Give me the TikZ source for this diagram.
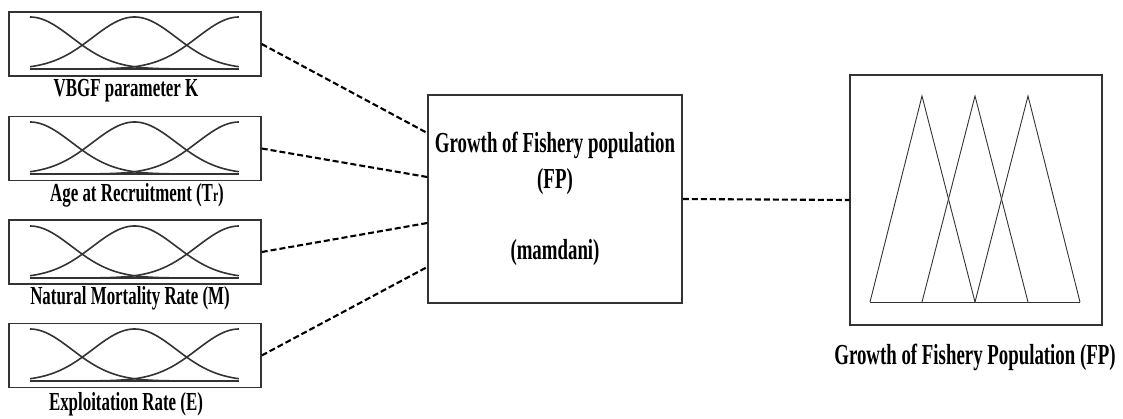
\documentclass[tikz,border=0pt]{standalone}
\usepackage{fontspec}
\newfontfamily\lblfont[FakeStretch=0.65]{Liberation Serif}
\usetikzlibrary{calc}
\definecolor{edge}{HTML}{333333}
\tikzset{
  inbox/.style={draw=edge, line width=1.4pt, minimum width=252pt, minimum height=64pt, inner sep=0pt},
  mainbox/.style={draw=edge, line width=1.5pt, minimum width=254pt, minimum height=208pt, align=center,
                  font=\lblfont\bfseries\fontsize{29}{35.5}\selectfont, inner sep=0pt},
  outbox/.style={draw=edge, line width=1.2pt, minimum width=252pt, minimum height=250pt, inner sep=0pt},
  inlabel/.style={font=\lblfont\bfseries\fontsize{26}{28}\selectfont, inner sep=0pt},
  outlabel/.style={font=\lblfont\bfseries\fontsize{29}{32}\selectfont, inner sep=0pt},
  link/.style={draw=black, line width=2.1pt, dash pattern=on 6pt off 3pt},
  mfline/.style={draw=edge, line width=1.6pt},
  triline/.style={draw=edge, line width=0.9pt}
}
\begin{document}
\begin{tikzpicture}[x=1pt,y=-1pt]
\useasboundingbox (0,0) rectangle (1123,418);

% input boxes
\node[inbox] (b1) at (135,44) {};
\node[inbox] (b2) at (135,148.5) {};
\node[inbox] (b3) at (135,252) {};
\node[inbox] (b4) at (135,355.5) {};

% membership functions in the input boxes
\foreach \t in {12,117,221,324}{
  \pgfmathsetmacro{\yt}{\t+5}
  \pgfmathsetmacro{\yb}{\t+57}
  \pgfmathsetmacro{\hh}{\yb-\yt}
  \draw[mfline] (30,\yb) -- (239,\yb);
  \draw[mfline] plot[domain=0:1,samples=70,smooth] ({30+209*\x},{\yb-\hh*exp(-((\x)*(\x))/0.08)});
  \draw[mfline] plot[domain=0:1,samples=70,smooth] ({30+209*\x},{\yb-\hh*exp(-((\x-0.5)*(\x-0.5))/0.08)});
  \draw[mfline] plot[domain=0:1,samples=70,smooth] ({30+209*\x},{\yb-\hh*exp(-((\x-1)*(\x-1))/0.08)});
}

% input labels
\node[inlabel] (l1) at (126,91) {VBGF parameter K};
\node[inlabel] (l2) at (137,195) {Age at Recruitment (T{\fontsize{18}{18}\selectfont r})};
\node[inlabel] (l3) at (130,298) {Natural Mortality Rate (M)};
\node[inlabel] (l4) at (126,404) {Exploitation Rate (E)};

% main box
\node[mainbox] (c) at (555,199) {Growth of Fishery population\\(FP)\\ \\(mamdani)};

% output box
\node[outbox] (o) at (976,200) {};
\draw[triline] (870,302) -- (1080,302);
\draw[triline] (870,302) -- (922,96) -- (975,302);
\draw[triline] (922,302) -- (975,96) -- (1028,302);
\draw[triline] (975,302) -- (1028,96) -- (1080,302);
\node[outlabel] (ol) at (975,357) {Growth of Fishery Population (FP)};

% connectors
\draw[link] (b1.east) -- ($(c.west)+(0,-66)$);
\draw[link] (b2.east) -- ($(c.west)+(0,-22)$);
\draw[link] (b3.east) -- ($(c.west)+(0,24)$);
\draw[link] (b4.east) -- ($(c.west)+(0,68)$);
\draw[link] (c.east) -- (o.west);
\end{tikzpicture}
\end{document}
